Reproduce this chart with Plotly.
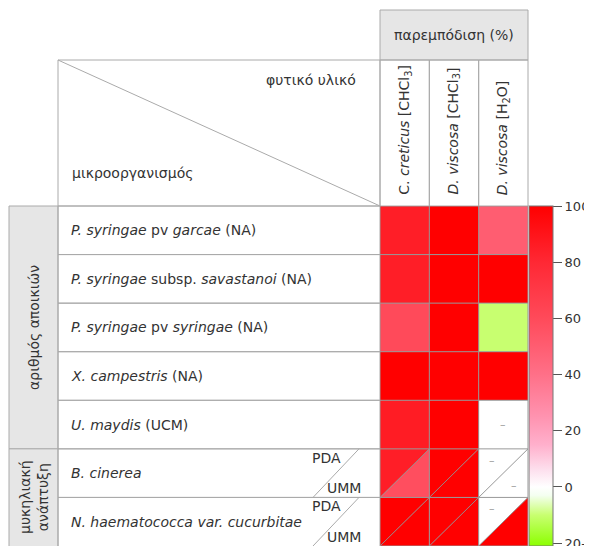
import plotly.graph_objects as go
from plotly.colors import sample_colorscale, unlabel_rgb

# ---------------- data ----------------
plant_materials = ["C. <i>creticus</i> [CHCl<sub>3</sub>]",
                   "<i>D. viscosa</i> [CHCl<sub>3</sub>]",
                   "<i>D. viscosa</i> [H<sub>2</sub>O]"]
organisms = ["<i>P. syringae</i> pv <i>garcae</i> (NA)",
             "<i>P. syringae</i> subsp. <i>savastanoi</i> (NA)",
             "<i>P. syringae</i> pv <i>syringae</i> (NA)",
             "<i>X. campestris</i> (NA)",
             "<i>U. maydis</i> (UCM)",
             "<i>B. cinerea</i>",
             "<i>N. haematococca var. cucurbitae</i>"]
groups = ["αριθμός αποικιών", "μυκηλιακή<br>ανάπτυξη"]
group_rows = [(0, 4), (5, 6)]
# single-value rows (inhibition %)
inhibition = [[85, 100, 50],
              [85, 100, 100],
              [60, 100, -10],
              [100, 100, 100],
              [86, 100, None]]
# split rows: medium PDA (upper-left triangle) / UMM (lower-right triangle)
split_rows = [5, 6]
inhibition_pda = [[85, 100, None],
                  [100, 100, None]]
inhibition_umm = [[58, 100, None],
                  [100, 100, 100]]
media = ["PDA", "UMM"]
cb_tickvals = [-20, 0, 20, 40, 60, 80, 100]
cb_ticktext = ["20-", "0", "20", "40", "60", "80", "100"]
header_title = "παρεμπόδιση (%)"
corner_top = "φυτικό υλικό"
corner_bottom = "μικροοργανισμός"

# ---------------- style ----------------
OFF = 8                      # page body margin of the browser
FW, FH = 592 - OFF, 546 - OFF
ZMIN, ZMAX = -21, 100
def px(x): return (x - OFF) / FW
def py(y): return 1 - (y - OFF) / FH

stops = [(-21, "rgb(140,255,0)"), (-10, "rgb(200,255,112)"), (-3, "rgb(244,255,240)"),
         (0, "rgb(255,255,255)"), (6, "rgb(253,224,238)"), (15, "rgb(255,176,204)"),
         (25, "rgb(255,147,176)"), (40, "rgb(255,112,136)"), (60, "rgb(255,74,90)"),
         (80, "rgb(255,40,52)"), (100, "rgb(255,0,0)")]
cscale = [[(v - ZMIN) / (ZMAX - ZMIN), c] for v, c in stops]
def colour(v):
    r, g, b = unlabel_rgb(sample_colorscale(cscale, [(v - ZMIN) / (ZMAX - ZMIN)])[0])
    return "rgb(%d,%d,%d)" % (round(r), round(g), round(b))

GRID = "#aaaaaa"
CELL_GRID = "#999999"
FILL = "#e6e6e6"
FONT = "DejaVu Sans"
TXT = "#333333"
FS = 14

n_rows = len(organisms)
n_cols = len(plant_materials)

# table geometry (pixels in the window)
X_GRP0, X_LBL0, X_HM0, X_HM1 = 9, 58, 380, 528
Y_TOP, Y_HDR, Y_HM0, Y_BOT = 10, 60, 206, 546
row_h = (Y_BOT - Y_HM0) / n_rows
col_w = (X_HM1 - X_HM0) / n_cols
def row_y(r): return Y_HM0 + r * row_h

fig = go.Figure()

z = [list(r) for r in inhibition] + [[None] * n_cols for _ in split_rows]
fig.add_trace(go.Heatmap(
    z=z, x=list(range(n_cols)), y=list(range(n_rows)),
    colorscale=cscale, zmin=ZMIN, zmax=ZMAX, hoverongaps=False,
    colorbar=dict(x=px(529), xanchor="left", xref="paper", xpad=0,
                  y=py(Y_HM0), yanchor="top", yref="paper", ypad=0,
                  len=(ZMAX - ZMIN) * (487 - 206) / 100, lenmode="pixels",
                  thickness=24, thicknessmode="pixels",
                  outlinewidth=1, outlinecolor="#777777",
                  tickmode="array", tickvals=cb_tickvals, ticktext=cb_ticktext,
                  ticks="outside", ticklen=9, tickwidth=1, tickcolor="#555555",
                  ticklabeloverflow="allow",
                  tickfont=dict(family=FONT, size=13, color=TXT))))

annotations = []
shapes = []

def text(x, y, s, xa="center", ya="middle", angle=0, size=FS, color=TXT):
    annotations.append(dict(x=x, y=y, xref="paper", yref="paper",
                            text=s, showarrow=False, xanchor=xa, yanchor=ya, textangle=angle,
                            font=dict(family=FONT, size=size, color=color)))

def dash(x, y):
    annotations.append(dict(x=x, y=y, xref="x", yref="y", text="–", showarrow=False,
                            xanchor="center", yanchor="middle",
                            font=dict(family=FONT, size=11, color="#999999")))

# split triangles
for k, r in enumerate(split_rows):
    for c in range(n_cols):
        for vals, tri, dpos in [
            (inhibition_pda, [(c - 0.5, r - 0.5), (c + 0.5, r - 0.5), (c - 0.5, r + 0.5)], (-0.22, -0.27)),
            (inhibition_umm, [(c + 0.5, r - 0.5), (c + 0.5, r + 0.5), (c - 0.5, r + 0.5)], (0.22, 0.25))]:
            v = vals[k][c]
            if v is None:
                dash(c + dpos[0], r + dpos[1])
                continue
            xs = [p[0] for p in tri] + [tri[0][0]]
            ys = [p[1] for p in tri] + [tri[0][1]]
            fig.add_trace(go.Scatter(x=xs, y=ys, mode="lines", fill="toself",
                                     fillcolor=colour(v), line=dict(width=0),
                                     hoverinfo="skip", showlegend=False))
        shapes.append(dict(type="line", xref="x", yref="y", x0=c - 0.5, y0=r + 0.5,
                           x1=c + 0.5, y1=r - 0.5, line=dict(color="rgba(140,140,140,0.9)", width=1),
                           layer="above"))

# missing single cells
for r, row in enumerate(inhibition):
    for c, v in enumerate(row):
        if v is None:
            dash(c, r)

# heatmap grid
for c in range(n_cols + 1):
    shapes.append(dict(type="line", xref="x", yref="y", x0=c - 0.5, x1=c - 0.5,
                       y0=-0.5, y1=n_rows - 0.5, line=dict(color=CELL_GRID, width=1), layer="above"))
for r in range(n_rows + 1):
    shapes.append(dict(type="line", xref="x", yref="y", x0=-0.5, x1=n_cols - 0.5,
                       y0=r - 0.5, y1=r - 0.5, line=dict(color=CELL_GRID, width=1), layer="above"))

def rect(x0, y0, x1, y1, fill=None):
    shapes.append(dict(type="rect", xref="paper", yref="paper", x0=px(x0), x1=px(x1),
                       y0=py(y1), y1=py(y0), line=dict(color=GRID, width=1),
                       fillcolor=fill if fill else "rgba(0,0,0,0)", layer="below"))

def line(x0, y0, x1, y1):
    shapes.append(dict(type="line", xref="paper", yref="paper", x0=px(x0), x1=px(x1),
                       y0=py(y0), y1=py(y1), line=dict(color=GRID, width=1), layer="below"))

# header
rect(X_HM0, Y_TOP, X_HM1, Y_HDR, FILL)
text(px((X_HM0 + X_HM1) / 2), py((Y_TOP + Y_HDR) / 2), header_title)
for c, name in enumerate(plant_materials):
    x0 = X_HM0 + c * col_w
    rect(x0, Y_HDR, x0 + col_w, Y_HM0)
    text(px(x0 + col_w / 2), py(Y_HM0 - 9), name, ya="bottom", angle=-90)
# corner
rect(X_LBL0, Y_HDR, X_HM0, Y_HM0)
line(X_LBL0, Y_HDR, X_HM0, Y_HM0)
text(px(358), py(80), corner_top, xa="right")
text(px(70), py(173), corner_bottom, xa="left")

# groups
for g, (r0, r1) in zip(groups, group_rows):
    y0, y1 = row_y(r0), row_y(r1 + 1)
    rect(X_GRP0, y0, X_LBL0, y1 + (2 if r1 == n_rows - 1 else 0), FILL)
    text(px((X_GRP0 + X_LBL0) / 2 + 1), py((y0 + y1) / 2), g, angle=-90)

# row labels
for r, name in enumerate(organisms):
    y0, y1 = row_y(r), row_y(r + 1)
    rect(X_LBL0, y0, X_HM0, y1 + (2 if r == n_rows - 1 else 0))
    text(px(69), py((y0 + y1) / 2), name, xa="left")
    if r in split_rows:
        line(313, y1, 359, y0)
        text(px(343), py(y0 + 9), media[0], xa="right")
        text(px(363), py(y1 - 9), media[1], xa="right")

fig.update_layout(
    width=FW, height=FH, margin=dict(l=0, r=0, t=0, b=0),
    paper_bgcolor="white", plot_bgcolor="white", showlegend=False,
    xaxis=dict(domain=[px(X_HM0), px(X_HM1)], range=[-0.5, n_cols - 0.5], visible=False, fixedrange=True),
    yaxis=dict(domain=[0, py(Y_HM0)], range=[n_rows - 0.5, -0.5], visible=False, fixedrange=True),
    shapes=shapes, annotations=annotations,
)
fig.write_html("out.html")
